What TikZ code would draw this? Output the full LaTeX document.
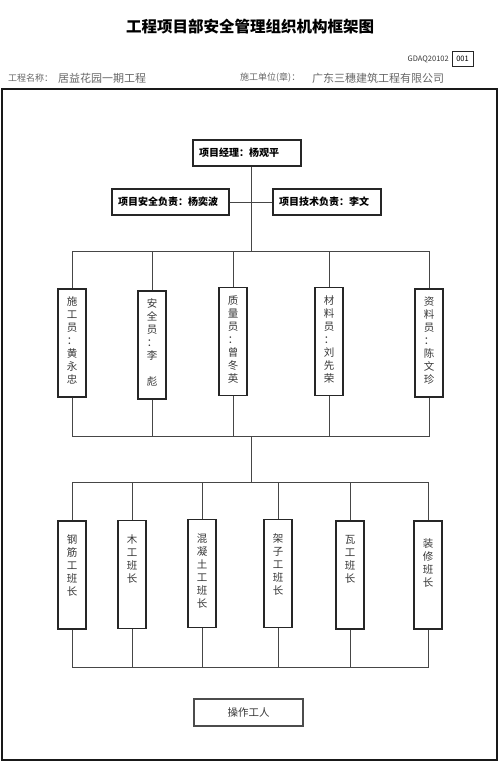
\documentclass[tikz,border=0pt]{standalone}
\usepackage{fontspec}
\setmainfont{Noto Sans CJK SC}
\usepackage{tikz}
\definecolor{LineGray}{RGB}{70,70,70}
\definecolor{TextGray}{RGB}{55,55,55}
\newcommand{\vtxt}[2][0pt]{\parbox[t][92pt][t]{14pt}{\centering\vspace*{#1}#2}}

\begin{document}
\begin{tikzpicture}[
x=1pt,y=-1pt,
box/.style={
draw=black!85,
line width=1.1pt,
inner sep=0pt
},
headbox/.style={
box,
text width=#1,
inner xsep=6pt,
minimum height=26pt,
align=left,
font=\bfseries\fontsize{10}{12}\selectfont
},
colbox/.style={
box,
minimum width=28pt,
inner ysep=8pt,
text=TextGray,
font=\fontsize{10.5}{13}\selectfont
},
link/.style={draw=LineGray,line width=0.9pt}
]
\useasboundingbox (0,0) rectangle (500,763);

% header
\node[font=\bfseries\fontsize{15.5}{18}\selectfont] (title) at (250,27) {工程项目部安全管理组织机构框架图};
\node[anchor=east,font=\fontsize{7.5}{9}\selectfont,text=TextGray,inner sep=0pt] (code) at (449,59) {GDAQ20102};
\node[draw=black!85,line width=0.8pt,minimum width=21pt,minimum height=15pt,inner sep=0pt,
font=\fontsize{7.5}{9}\selectfont] (num) at (462.5,58.5) {001};
\node[anchor=west,inner sep=0pt,text=black!60,font=\fontsize{9}{11}\selectfont] (namekey) at (8,78) {工程名称：};
\node[anchor=west,inner sep=0pt,text=black!60,font=\fontsize{11}{13}\selectfont] (name) at (58,78) {居益花园一期工程};
\node[anchor=west,inner sep=0pt,text=black!60,font=\fontsize{9}{11}\selectfont] (unitkey) at (240,78) {施工单位(章)：};
\node[anchor=west,inner sep=0pt,text=black!60,font=\fontsize{11}{13}\selectfont] (unit) at (312,78) {广东三穗建筑工程有限公司};

% frame
\draw[black!90,line width=1.4pt] (2,89) rectangle (497,760);

% management
\node[headbox=96pt] (pm) at (247,153) {项目经理：杨观平};
\node[headbox=105pt] (safe) at (170.5,202) {项目安全负责：杨奕波};
\node[headbox=96pt] (tech) at (327,202) {项目技术负责：李文};

\coordinate (bus1) at (251,251);
\coordinate (bus2) at (251,436);
\coordinate (bus3) at (251,482);
\coordinate (bus4) at (251,667);

\draw[link] (bus1 |- pm.south) -- (bus1);
\draw[link] (safe.east) -- (tech.west);

% staff
\node[colbox] (s1) at (72,343) {\vtxt{施\\工\\员\\：\\黄\\永\\忠}};
\node[colbox] (s2) at (152,345) {\vtxt{安\\全\\员\\：\\李\\\mbox{}\\彪}};
\node[colbox] (s3) at (233,341.5) {\vtxt{质\\量\\员\\：\\曾\\冬\\英}};
\node[colbox] (s4) at (329,341.5) {\vtxt{材\\料\\员\\：\\刘\\先\\荣}};
\node[colbox] (s5) at (429,343) {\vtxt{资\\料\\员\\：\\陈\\文\\珍}};

\draw[link] (s1.north) -- (s1.north |- bus1) -- (s5.north |- bus1) -- (s5.north);
\draw[link] (s2.north) -- (s2.north |- bus1);
\draw[link] (s3.north) -- (s3.north |- bus1);
\draw[link] (s4.north) -- (s4.north |- bus1);
\draw[link] (s1.south) -- (s1.south |- bus2) -- (s5.south |- bus2) -- (s5.south);
\draw[link] (s2.south) -- (s2.south |- bus2);
\draw[link] (s3.south) -- (s3.south |- bus2);
\draw[link] (s4.south) -- (s4.south |- bus2);
\draw[link] (bus2) -- (bus3);

% crews
\node[colbox] (c1) at (72,575) {\vtxt[6pt]{钢\\筋\\工\\班\\长}};
\node[colbox] (c2) at (132,574.5) {\vtxt[6pt]{木\\工\\班\\长}};
\node[colbox] (c3) at (202,573.5) {\vtxt[6pt]{混\\凝\\土\\工\\班\\长}};
\node[colbox] (c4) at (278,573.5) {\vtxt[6pt]{架\\子\\工\\班\\长}};
\node[colbox] (c5) at (350,575) {\vtxt[6pt]{瓦\\工\\班\\长}};
\node[colbox] (c6) at (428,575) {\vtxt[10pt]{装\\修\\班\\长}};

\draw[link] (c1.north) -- (c1.north |- bus3) -- (c6.north |- bus3) -- (c6.north);
\draw[link] (c2.north) -- (c2.north |- bus3);
\draw[link] (c3.north) -- (c3.north |- bus3);
\draw[link] (c4.north) -- (c4.north |- bus3);
\draw[link] (c5.north) -- (c5.north |- bus3);
\draw[link] (c1.south) -- (c1.south |- bus4) -- (c6.south |- bus4) -- (c6.south);
\draw[link] (c2.south) -- (c2.south |- bus4);
\draw[link] (c3.south) -- (c3.south |- bus4);
\draw[link] (c4.south) -- (c4.south |- bus4);
\draw[link] (c5.south) -- (c5.south |- bus4);

% workers
\node[box,draw=black!70,minimum width=109pt,minimum height=27pt,text=TextGray,
font=\fontsize{10.5}{13}\selectfont] (work) at (248.5,712.5) {操作工人};
\end{tikzpicture}
\end{document}
